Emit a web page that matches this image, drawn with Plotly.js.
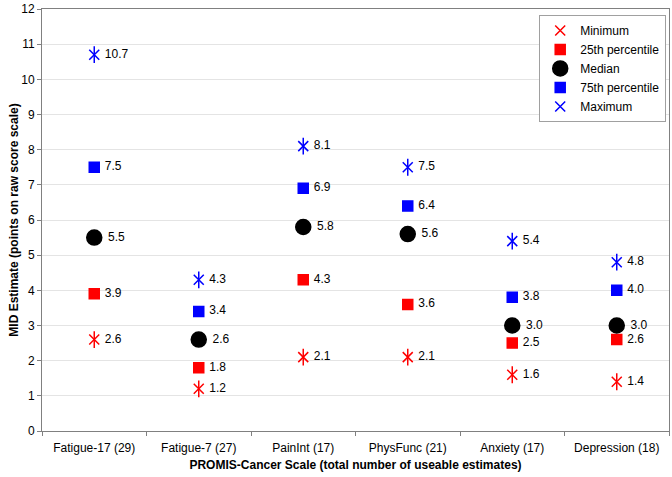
<!DOCTYPE html>
<html>
<head>
<meta charset="utf-8">
<script src="https://cdn.plot.ly/plotly-3.0.1.min.js"></script>
<style>html,body{margin:0;padding:0;background:#fff;}#chart{width:672px;height:477px;}</style>
</head>
<body>
<div id="chart"></div>
<script>
const categories = ["Fatigue-17 (29)", "Fatigue-7 (27)", "PainInt (17)", "PhysFunc (21)", "Anxiety (17)", "Depression (18)"];
const minimum = [2.6, 1.2, 2.1, 2.1, 1.6, 1.4];
const p25 = [3.9, 1.8, 4.3, 3.6, 2.5, 2.6];
const median = [5.5, 2.6, 5.8, 5.6, 3.0, 3.0];
const p75 = [7.5, 3.4, 6.9, 6.4, 3.8, 4.0];
const maximum = [10.7, 4.3, 8.1, 7.5, 5.4, 4.8];
const yTicks = [0,1,2,3,4,5,6,7,8,9,10,11,12];

const FONT = "Liberation Sans, Arial, sans-serif";
const labelFont = {family: FONT, size: 12, color: "#000"};
const fmt = v => v.map(x => " " + x.toFixed(1));

function series(name, vals, color, symbol, size, group, showText, showLegend) {
  return {
    type: "scatter", mode: showText ? "markers+text" : "markers",
    x: categories, y: vals, name: name,
    legendgroup: group, showlegend: showLegend,
    text: showText ? fmt(vals) : undefined,
    textposition: "middle right", textfont: labelFont,
    marker: {symbol: symbol, size: size, color: color,
             line: {color: color, width: 1.5}},
    cliponaxis: false, hoverinfo: "skip"
  };
}

const data = [
  series("Minimum", minimum, "#ff0000", "x-thin-open", 10, "min", true, true),
  series("Minimum", minimum, "#ff0000", "line-ns-open", 12, "min", false, false),
  series("25th percentile", p25, "#ff0000", "square", 10, "p25", true, true),
  series("Median", median, "#000000", "circle", 15, "med", true, true),
  series("75th percentile", p75, "#0000ff", "square", 10, "p75", true, true),
  series("Maximum", maximum, "#0000ff", "x-thin-open", 10, "max", true, true),
  series("Maximum", maximum, "#0000ff", "line-ns-open", 12, "max", false, false)
];

const layout = {
  width: 672, height: 477,
  margin: {l: 42, r: 3, t: 9, b: 46},
  paper_bgcolor: "#fff", plot_bgcolor: "#fff",
  font: {family: FONT, size: 12, color: "#000"},
  showlegend: true,
  legend: {
    x: 0.793, y: 0.986, xanchor: "left", yanchor: "top",
    bgcolor: "#fff", bordercolor: "#a0a0a0", borderwidth: 1,
    font: {family: FONT, size: 12, color: "#000"},
    itemwidth: 30, tracegroupgap: 0
  },
  xaxis: {
    type: "category", range: [-0.5, 5.5],
    showline: true, linecolor: "#808080", linewidth: 1, mirror: true,
    ticks: "outside", tickson: "boundaries", ticklen: 4, tickcolor: "#808080",
    ticklabelstandoff: 6,
    showgrid: false, zeroline: false,
    tickfont: {family: FONT, size: 12, color: "#000"},
    title: {text: "<b>PROMIS-Cancer Scale (total number of useable estimates)</b>",
            font: {family: FONT, size: 12, color: "#000"}, standoff: 6}
  },
  yaxis: {
    range: [0, 12], tickvals: yTicks, ticktext: yTicks.map(String),
    showline: true, linecolor: "#808080", linewidth: 1, mirror: true,
    ticks: "outside", ticklen: 4, tickcolor: "#808080",
    showgrid: true, gridcolor: "#e4e4e4", gridwidth: 1, zeroline: false,
    tickfont: {family: FONT, size: 12, color: "#000"},
    title: {text: "<b>MID Estimate (points on raw score scale)</b>",
            font: {family: FONT, size: 12, color: "#000"}, standoff: 0}
  }
};

Plotly.newPlot("chart", data, layout, {staticPlot: true, displayModeBar: false});
</script>
</body>
</html>
